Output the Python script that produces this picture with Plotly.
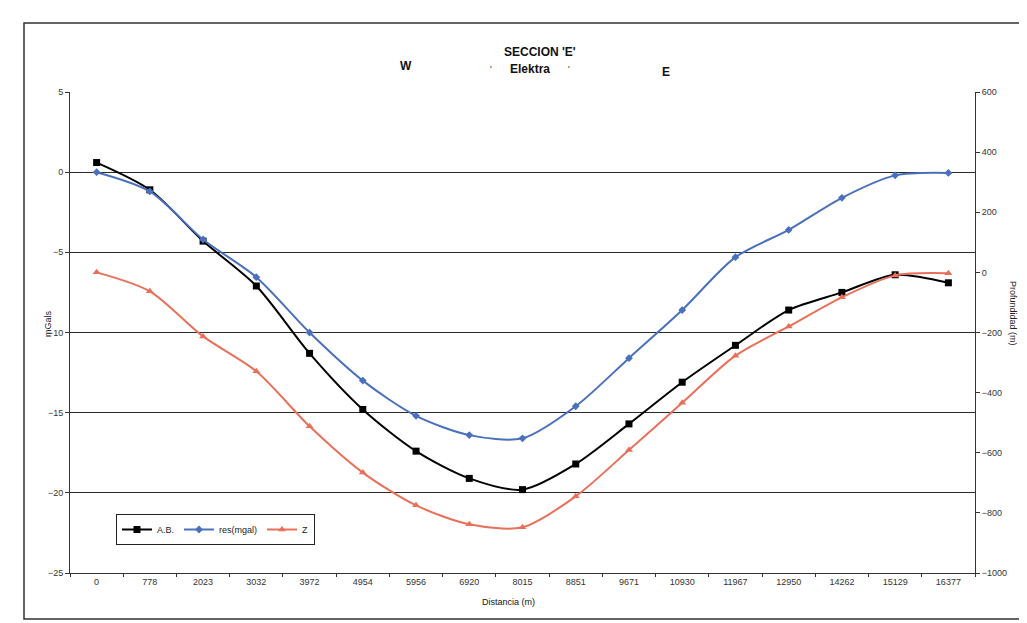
import plotly.graph_objects as go

# ---- data ----
distancias = ["0", "778", "2023", "3032", "3972", "4954", "5956", "6920", "8015",
              "8851", "9671", "10930", "11967", "12950", "14262", "15129", "16377"]
ab_mgal = [0.6, -1.1, -4.3, -7.1, -11.3, -14.8, -17.4, -19.1, -19.8,
           -18.2, -15.7, -13.1, -10.8, -8.6, -7.5, -6.4, -6.9]
res_mgal = [0.0, -1.2, -4.2, -6.55, -10.0, -13.0, -15.2, -16.4, -16.6,
            -14.6, -11.6, -8.6, -5.3, -3.6, -1.6, -0.2, -0.05]
z_m = [0, -63, -213, -329, -512, -666, -775, -838, -848,
       -745, -591, -434, -277, -180, -83, -10, -3]

W, H = 1027, 623
L, R, T, B = 62, 967, 84, 565


def px(x):
    return (x - L) / (R - L)


def py(y):
    return (B - y) / (B - T)


FONT = "Liberation Sans, Arial, sans-serif"
BLUE = "#4a70bd"
RED = "#e8705a"

fig = go.Figure()
fig.add_trace(go.Scatter(
    x=distancias, y=ab_mgal, name="A.B.", mode="lines+markers",
    line=dict(color="#000000", width=2, shape="spline", smoothing=0.8),
    marker=dict(symbol="square", size=7, color="#000000"),
))
fig.add_trace(go.Scatter(
    x=distancias, y=res_mgal, name="res(mgal)", mode="lines+markers",
    line=dict(color=BLUE, width=2, shape="spline", smoothing=0.8),
    marker=dict(symbol="diamond", size=6, color=BLUE),
))
fig.add_trace(go.Scatter(
    x=distancias, y=z_m, name="Z", mode="lines+markers", yaxis="y2",
    line=dict(color=RED, width=2, shape="spline", smoothing=0.8),
    marker=dict(symbol="triangle-up", size=7, color=RED),
))

tickfont = dict(family=FONT, size=9, color="#333333")

fig.update_layout(
    width=W, height=H,
    margin=dict(l=L, r=W - R, t=T, b=H - B),
    paper_bgcolor="white", plot_bgcolor="white",
    font=dict(family=FONT, color="#222222"),
    showlegend=True,
    legend=dict(
        orientation="h", x=px(108), y=py(506), xanchor="left", yanchor="top",
        bordercolor="#222222", borderwidth=1, bgcolor="white",
        font=dict(family=FONT, size=9, color="#222222"),
        itemwidth=30, tracegroupgap=0,
    ),
    xaxis=dict(
        type="category", categoryorder="array", categoryarray=distancias,
        range=[-0.5, len(distancias) - 0.5],
        tickson="boundaries", ticks="outside", ticklen=3, tickcolor="#333333",
        showline=True, linecolor="#333333", linewidth=1,
        showgrid=False, zeroline=False,
        tickfont=tickfont, ticklabelstandoff=0,
    ),
    yaxis=dict(
        range=[-25, 5], dtick=5, tick0=0,
        ticks="outside", ticklen=4, tickcolor="#333333",
        showline=True, linecolor="#333333", linewidth=1,
        showgrid=True, gridcolor="#2a2a2a", gridwidth=1,
        zeroline=False, tickfont=tickfont,
    ),
    yaxis2=dict(
        overlaying="y", side="right",
        range=[-1000, 600], dtick=200, tick0=0,
        ticks="outside", ticklen=4, tickcolor="#333333",
        showline=True, linecolor="#333333", linewidth=1,
        showgrid=False, zeroline=False, tickfont=tickfont,
    ),
)

# chart-area border
fig.add_shape(type="rect", xref="paper", yref="paper",
              x0=px(16), x1=px(1040), y0=py(611), y1=py(15),
              line=dict(color="#333333", width=1.5), layer="below")

ann = [
    dict(text="<b>SECCION 'E'</b>", x=px(532), y=py(44), size=12),
    dict(text="<b>W</b>", x=px(398), y=py(58), size=12),
    dict(text="<b>Elektra</b>", x=px(522), y=py(61), size=12),
    dict(text="<b>E</b>", x=px(658), y=py(64), size=12),
    dict(text="'", x=px(483), y=py(61), size=9),
    dict(text="'", x=px(561), y=py(61), size=9),
    dict(text="Distancia (m)", x=px(500), y=py(594), size=9),
]
for a in ann:
    fig.add_annotation(text=a["text"], x=a["x"], y=a["y"], xref="paper", yref="paper",
                       showarrow=False, xanchor="center", yanchor="middle",
                       font=dict(family=FONT, size=a["size"], color="#111111"))

fig.add_annotation(text="mGals", x=px(33), y=py(316), xref="paper", yref="paper",
                   showarrow=False, textangle=-90,
                   font=dict(family=FONT, size=9, color="#222222"))
fig.add_annotation(text="Profundidad (m)", x=px(1012), y=py(305), xref="paper", yref="paper",
                   showarrow=False, textangle=90,
                   font=dict(family=FONT, size=9, color="#222222"))

fig.write_html("out.html")
